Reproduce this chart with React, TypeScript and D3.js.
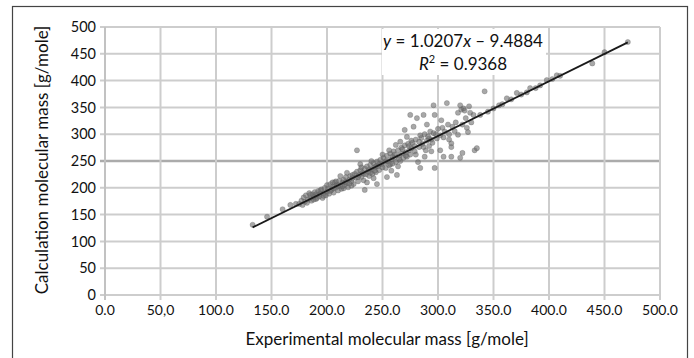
import React from "react";
import * as d3 from "d3";

const xTicks = [0, 50, 100, 150, 200, 250, 300, 350, 400, 450, 500];
const xTickLabels = ["0.0", "50,0", "100.0", "150.0", "200.0", "250.0", "300.0", "350.0", "400.0", "450.0", "500.0"];
const yTicks = [0, 50, 100, 150, 200, 250, 300, 350, 400, 450, 500];

const slope = 1.0207;
const intercept = -9.4884;
const trendX = [133, 471];

const pointsLow: [number, number][] = [
  [133, 131], [146, 146], [160, 160], [167, 168], [172, 170],
  [175, 170], [177, 176], [179, 182], [180, 174], [181, 186], [183, 178], [184, 190], [185, 181],
  [186, 176], [187, 188], [188, 183], [189, 192], [190, 179], [191, 186], [192, 194], [193, 184],
  [194, 189], [195, 197], [196, 181], [197, 190], [198, 200], [199, 186], [200, 193], [200, 205],
  [182, 172], [185, 187], [188, 178], [191, 181], [194, 195], [197, 185], [178, 168], [190, 188],
];
const pointsA: [number, number][] = [
  [201, 198], [202, 189], [203, 207], [204, 196], [205, 202], [206, 191], [207, 210], [208, 200],
  [209, 206], [210, 195], [211, 213], [212, 203], [213, 198], [214, 210], [215, 215], [216, 205],
  [217, 220], [218, 209], [219, 201], [220, 215], [221, 222], [222, 212], [223, 218], [224, 207],
  [225, 226], [212, 222], [218, 228], [208, 212], [215, 199], [222, 204],
  [203, 194], [206, 199], [210, 204], [214, 203], [217, 211], [220, 208], [223, 224], [205, 210],
];
const pointsB: [number, number][] = [
  [226, 219], [227, 230], [228, 212], [229, 224], [230, 233], [231, 220], [232, 228], [233, 214],
  [234, 236], [235, 225], [236, 240], [237, 230], [238, 222], [239, 243], [240, 234], [241, 226],
  [242, 246], [243, 238], [244, 229], [245, 249], [246, 240], [247, 233], [248, 252], [249, 244],
  [250, 238], [234, 196], [245, 207], [227, 270], [230, 244], [240, 250], [242, 218], [236, 210],
  [228, 220], [233, 226], [238, 234], [243, 232], [247, 244], [231, 238], [239, 228], [244, 240],
];
const pointsC: [number, number][] = [
  [251, 256], [252, 247], [253, 237], [254, 260], [255, 250], [256, 242], [257, 264], [258, 253],
  [259, 245], [260, 268], [261, 257], [262, 248], [263, 224], [264, 270], [265, 260], [266, 250],
  [267, 275], [268, 264], [269, 256], [270, 279], [271, 266], [272, 258], [273, 282], [274, 270],
  [275, 262], [254, 220], [258, 232], [262, 280], [266, 286], [270, 308], [272, 295], [256, 270],
  [264, 240], [250, 262], [276, 288],
  [253, 250], [257, 244], [261, 262], [265, 254], [268, 272], [271, 260], [274, 278], [259, 258],
];
const pointsD: [number, number][] = [
  [276, 274], [277, 284], [278, 314], [279, 268], [280, 290], [281, 330], [282, 248], [283, 276],
  [284, 237], [285, 293], [286, 282], [287, 336], [288, 300], [289, 270], [290, 288], [291, 296],
  [292, 278], [293, 305], [294, 290], [295, 284], [296, 354], [297, 336], [298, 300], [299, 292],
  [300, 310], [297, 237], [275, 336], [302, 270], [305, 258], [284, 298], [290, 318], [294, 268],
  [280, 262], [288, 258], [279, 278], [283, 286], [287, 276], [292, 292], [296, 302],
];
const pointsE: [number, number][] = [
  [302, 298], [304, 312], [305, 294], [306, 305], [308, 358], [309, 318], [310, 300], [312, 283],
  [312, 258], [313, 314], [315, 306], [316, 322], [318, 299], [318, 340], [320, 256], [320, 354],
  [321, 346], [322, 265], [322, 318], [323, 348], [324, 344], [325, 330], [326, 312], [327, 304],
  [328, 352], [329, 340], [330, 322], [333, 270], [335, 274], [312, 276], [332, 336], [310, 290],
  [303, 326],
];
const pointsHigh: [number, number][] = [
  [338, 336], [342, 380], [345, 342], [350, 348], [355, 354], [358, 356], [362, 367], [366, 365],
  [371, 377], [375, 374], [380, 378], [383, 386], [388, 386], [392, 391], [398, 401], [403, 403],
  [407, 410], [410, 409], [439, 432], [450, 453], [471, 472],
];

const allPoints = [...pointsLow, ...pointsA, ...pointsB, ...pointsC, ...pointsD, ...pointsE, ...pointsHigh];

const FONT = "Lato, 'Open Sans', sans-serif";

export default function App() {
  const W = 694, H = 358;
  const x = d3.scaleLinear().domain([0, 500]).range([105, 660]);
  const y = d3.scaleLinear().domain([0, 500]).range([295, 27]);
  const line = d3.line<number>().x(d => x(d)).y(d => y(slope * d + intercept));

  return (
    <svg width={W} height={H} style={{ position: "absolute", left: 0, top: 0, background: "#fff" }}>
      <rect x={12.5} y={6.5} width={675} height={360} fill="#fff" stroke="#444" strokeWidth={1.2} />
      {yTicks.map(t => (
        <g key={"y" + t}>
          <line x1={100} x2={x(500)} y1={y(t)} y2={y(t)} stroke={t === 250 ? "#ababab" : "#cdcdcd"} strokeWidth={t === 250 ? 2.6 : 2} />
          <text x={96} y={y(t)} dy="0.36em" textAnchor="end" fontFamily={FONT} fontSize={14.5} fill="#111">{t}</text>
        </g>
      ))}
      {xTicks.map((t, i) => (
        <g key={"x" + t}>
          <line x1={x(t)} x2={x(t)} y1={y(500)} y2={300} stroke={t === 0 ? "#c2c2c2" : "#cdcdcd"} strokeWidth={2} />
          <text x={x(t)} y={315} textAnchor="middle" fontFamily={FONT} fontSize={14} fill="#111">{xTickLabels[i]}</text>
        </g>
      ))}
      {allPoints.map(([a, b], i) => (
        <circle key={i} cx={x(a)} cy={y(b)} r={2.6} fill="#6e6e6e" fillOpacity={0.6} stroke="#555" strokeOpacity={0.45} strokeWidth={0.6} />
      ))}
      <path d={line(trendX) || ""} fill="none" stroke="#1a1a1a" strokeWidth={1.8} />
      <rect x={382} y={29} width={164} height={46} fill="#fff" />
      <text x={463} y={47} textAnchor="middle" fontFamily={FONT} fontSize={17} fill="#111">
        <tspan fontStyle="italic">y</tspan> = 1.0207<tspan fontStyle="italic">x</tspan> – 9.4884
      </text>
      <text x={463} y={70} textAnchor="middle" fontFamily={FONT} fontSize={17} fill="#111">
        <tspan fontStyle="italic">R</tspan><tspan fontSize={11} dy={-7}>2</tspan><tspan dy={7}> = 0.9368</tspan>
      </text>
      <text x={387} y={345} textAnchor="middle" fontFamily={FONT} fontSize={17} fill="#111">Experimental molecular mass [g/mole]</text>
      <text transform="translate(48,160) rotate(-90)" textAnchor="middle" fontFamily={FONT} fontSize={17} fill="#111">Calculation molecular mass [g/mole]</text>
    </svg>
  );
}
